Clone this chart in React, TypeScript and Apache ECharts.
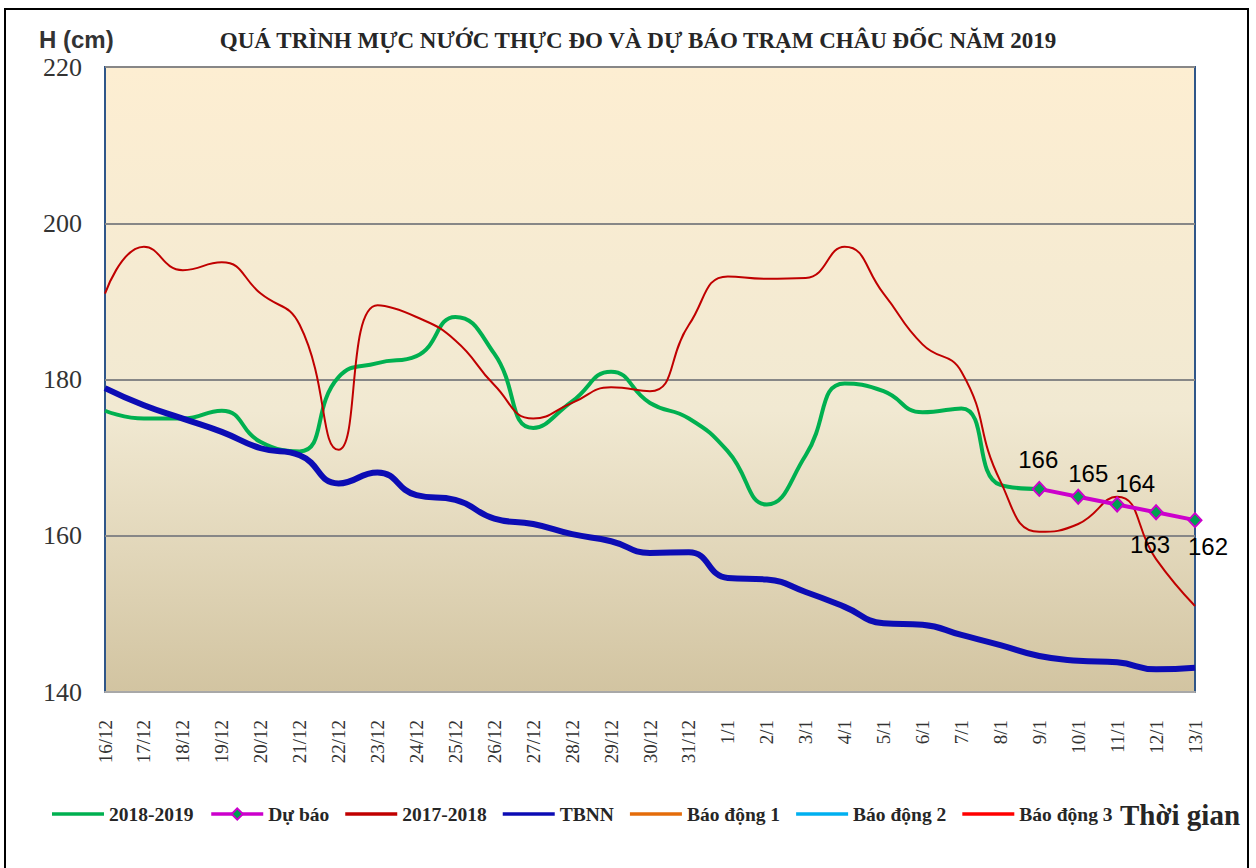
import React, { useEffect, useRef } from "react";
import * as echarts from "echarts";

const categories = [
  "16/12", "17/12", "18/12", "19/12", "20/12", "21/12", "22/12", "23/12",
  "24/12", "25/12", "26/12", "27/12", "28/12", "29/12", "30/12", "31/12",
  "1/1", "2/1", "3/1", "4/1", "5/1", "6/1", "7/1", "8/1", "9/1", "10/1",
  "11/1", "12/1", "13/1",
];

const series2018_2019 = [
  176, 175, 175, 176, 172, 170.8, 180.3, 182.1, 183, 188, 183.3, 173.8, 177.2,
  181, 177, 175, 170.8, 164, 170.3, 179.5, 178.5, 175.8, 176.3, 166.5, 166,
  null, null, null, null,
];

const forecast = [
  null, null, null, null, null, null, null, null, null, null, null, null,
  null, null, null, null, null, null, null, null, null, null, null, null,
  166, 165, 164, 163, 162,
];

const series2017_2018 = [
  191, 197, 194, 195, 191, 187, 171, 189.5, 188, 185, 179.3, 175, 177, 179,
  178.5, 187, 193.2, 192.9, 193, 197, 191, 184.5, 181, 167, 160.5, 161.5,
  165, 157, 151,
];

const seriesTBNN = [
  178.9, 176.7, 175, 173.3, 171.2, 170.3, 166.7, 168.1, 165.2, 164.6, 162.2,
  161.5, 160.2, 159.3, 157.8, 157.9, 154.6, 154.4, 152.8, 150.9, 148.8, 148.6,
  147.3, 146, 144.6, 144, 143.8, 142.9, 143.1,
];

const alarm1: number[] = [];
const alarm2: number[] = [];
const alarm3: number[] = [];

const yTicks = { min: 140, max: 220, interval: 20 };

// label placement for forecast points (layout only)
const forecastLabelPlacement: Record<number, { position: string; offset: number[] }> = {
  24: { position: "top", offset: [-1, -4] },
  25: { position: "top", offset: [10, 2] },
  26: { position: "top", offset: [18, 4] },
  27: { position: "bottom", offset: [-6, 7] },
  28: { position: "bottom", offset: [13, 1] },
};

const SERIF = '"Liberation Serif", "Times New Roman", serif';
const SANS = '"Liberation Sans", Arial, sans-serif';
const LINE_ICON = "path://M0,0H52V3.5H0Z";

export default function App() {
  const ref = useRef<HTMLDivElement>(null);

  useEffect(() => {
    if (!ref.current) return;
    const chart = echarts.init(ref.current, undefined, { renderer: "svg" });

    const forecastData = forecast.map((v, i) => {
      if (v === null) return null;
      const p = forecastLabelPlacement[i];
      return {
        value: v,
        label: p ? { position: p.position, offset: p.offset } : undefined,
      };
    });

    const option: any = {
      animation: false,
      backgroundColor: "#ffffff",
      grid: {
        left: 105,
        right: 61,
        top: 67,
        bottom: 176,
        show: true,
        borderColor: "#2F5689",
        borderWidth: 2,
        backgroundColor: new echarts.graphic.LinearGradient(0, 0, 0, 1, [
          { offset: 0, color: "#FDEED2" },
          { offset: 0.55, color: "#F1E9D2" },
          { offset: 1, color: "#D2C4A1" },
        ]),
      },
      xAxis: {
        type: "category",
        data: categories,
        boundaryGap: false,
        axisLine: { show: true, lineStyle: { color: "#A8A8A8", width: 2 } },
        axisTick: { show: false },
        axisLabel: {
          interval: 0,
          rotate: 90,
          margin: 28,
          fontFamily: SERIF,
          fontSize: 19,
          color: "#333333",
        },
        splitLine: { show: false },
      },
      yAxis: {
        type: "value",
        min: yTicks.min,
        max: yTicks.max,
        interval: yTicks.interval,
        axisLine: { show: false },
        axisTick: { show: false },
        axisLabel: {
          margin: 23,
          fontFamily: SERIF,
          fontSize: 26,
          color: "#333333",
        },
        splitLine: { show: true, lineStyle: { color: "#878787", width: 2 } },
      },
      legend: {
        left: 52,
        top: 804,
        itemWidth: 52,
        itemHeight: 14,
        itemGap: 16,
        padding: 0,
        lineStyle: { width: 3.5 },
        textStyle: {
          fontFamily: SERIF,
          fontWeight: "bold",
          fontSize: 19.5,
          color: "#262626",
        },
        data: [
          { name: "2018-2019", icon: LINE_ICON },
          { name: "Dự báo" },
          { name: "2017-2018", icon: LINE_ICON },
          { name: "TBNN", icon: LINE_ICON },
          { name: "Báo động 1", icon: LINE_ICON },
          { name: "Báo động 2", icon: LINE_ICON },
          { name: "Báo động 3", icon: LINE_ICON },
        ],
      },
      series: [
        {
          name: "2018-2019",
          type: "line",
          data: series2018_2019,
          smooth: 0.5,
          symbol: "none",
          lineStyle: { color: "#00B050", width: 4 },
          itemStyle: { color: "#00B050" },
          z: 2,
        },
        {
          name: "Dự báo",
          type: "line",
          data: forecastData,
          symbol: "diamond",
          symbolSize: [13, 14],
          lineStyle: { color: "#CC00CC", width: 4 },
          itemStyle: { color: "#00A050", borderColor: "#CC00CC", borderWidth: 2 },
          label: {
            show: true,
            fontFamily: SANS,
            fontSize: 24,
            color: "#000000",
          },
          z: 5,
        },
        {
          name: "2017-2018",
          type: "line",
          data: series2017_2018,
          smooth: 0.5,
          symbol: "none",
          lineStyle: { color: "#C00000", width: 2 },
          itemStyle: { color: "#C00000" },
          z: 3,
        },
        {
          name: "TBNN",
          type: "line",
          data: seriesTBNN,
          smooth: 0.5,
          symbol: "none",
          lineStyle: { color: "#0C0CB4", width: 6 },
          itemStyle: { color: "#0C0CB4" },
          z: 4,
        },
        {
          name: "Báo động 1",
          type: "line",
          data: alarm1,
          symbol: "none",
          lineStyle: { color: "#E46C0A", width: 3 },
          itemStyle: { color: "#E46C0A" },
        },
        {
          name: "Báo động 2",
          type: "line",
          data: alarm2,
          symbol: "none",
          lineStyle: { color: "#00B0F0", width: 3 },
          itemStyle: { color: "#00B0F0" },
        },
        {
          name: "Báo động 3",
          type: "line",
          data: alarm3,
          symbol: "none",
          lineStyle: { color: "#FF0000", width: 3 },
          itemStyle: { color: "#FF0000" },
        },
      ],
      graphic: [
        {
          type: "rect",
          shape: { x: 5, y: 9, width: 1243, height: 900 },
          style: { fill: "none", stroke: "#000000", lineWidth: 2 },
          silent: true,
        },
        {
          type: "text",
          x: 638,
          y: 40,
          style: {
            text: "QUÁ TRÌNH MỰC NƯỚC THỰC ĐO VÀ DỰ BÁO TRẠM CHÂU ĐỐC NĂM 2019",
            font: 'bold 23px "Liberation Serif", "Times New Roman", serif',
            fill: "#262626",
            textAlign: "center",
            textVerticalAlign: "middle",
          },
        },
        {
          type: "text",
          x: 39,
          y: 39,
          style: {
            text: "H (cm)",
            font: 'bold 24px "Liberation Sans", Arial, sans-serif',
            fill: "#333333",
            textAlign: "left",
            textVerticalAlign: "middle",
          },
        },
        {
          type: "text",
          x: 1120,
          y: 815,
          style: {
            text: "Thời gian",
            font: 'bold 29px "Liberation Serif", "Times New Roman", serif',
            fill: "#262626",
            textAlign: "left",
            textVerticalAlign: "middle",
          },
        },
      ],
    };

    chart.setOption(option);
    return () => chart.dispose();
  }, []);

  return (
    <div
      ref={ref}
      style={{
        position: "absolute",
        left: 0,
        top: 0,
        width: 1256,
        height: 868,
        background: "#ffffff",
      }}
    />
  );
}
